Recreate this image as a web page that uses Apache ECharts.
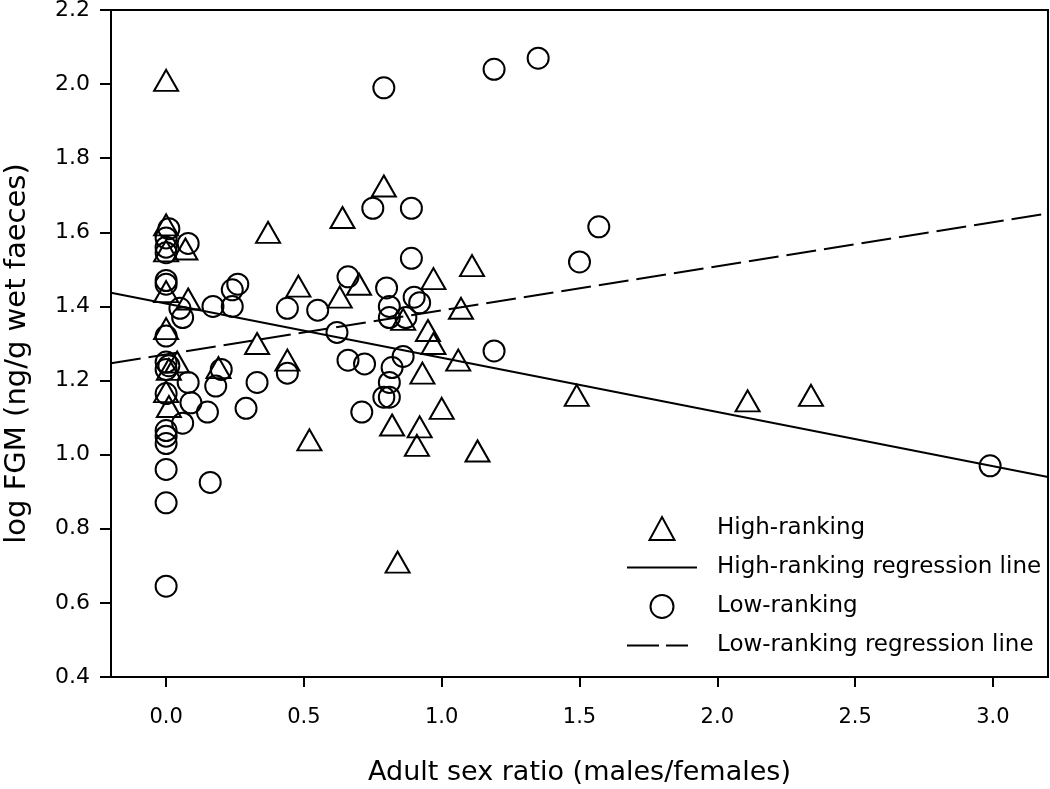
<!DOCTYPE html>
<html>
<head>
<meta charset="utf-8">
<script src="https://cdn.jsdelivr.net/npm/echarts@6/dist/echarts.min.js"></script>
<style>
html,body{margin:0;padding:0;background:#fff;}
#chart{width:1050px;height:789px;}
</style>
</head>
<body>
<div id="chart"></div>
<script>
// ---- data ----
const highRanking = [
  [0.00, 2.01], [0.00, 1.62], [0.00, 1.55], [0.07, 1.555], [0.00, 1.44], [0.08, 1.42],
  [0.00, 1.34], [0.04, 1.25], [0.01, 1.23], [0.00, 1.17], [0.01, 1.13], [0.19, 1.235],
  [0.33, 1.30], [0.37, 1.60], [0.44, 1.255], [0.48, 1.455], [0.52, 1.04], [0.63, 1.425],
  [0.64, 1.64], [0.70, 1.46], [0.79, 1.725], [0.82, 1.08], [0.84, 0.71], [0.86, 1.365],
  [0.92, 1.075], [0.91, 1.025], [0.93, 1.22], [0.95, 1.335], [0.97, 1.30], [0.97, 1.475],
  [1.00, 1.125], [1.06, 1.255], [1.07, 1.395], [1.11, 1.51], [1.13, 1.01], [1.49, 1.16],
  [2.11, 1.145], [2.34, 1.16]
];
const lowRanking = [
  [0.01, 1.61], [0.00, 1.585], [0.08, 1.57], [0.00, 1.56], [0.00, 1.545], [0.00, 1.47],
  [0.00, 1.46], [0.26, 1.46], [0.24, 1.445], [0.05, 1.395], [0.06, 1.37], [0.17, 1.40],
  [0.24, 1.40], [0.44, 1.395], [0.55, 1.39], [0.62, 1.33], [0.66, 1.48], [0.00, 1.32],
  [0.00, 1.25], [0.00, 1.23], [0.01, 1.24], [0.20, 1.23], [0.08, 1.195], [0.18, 1.185],
  [0.33, 1.195], [0.44, 1.22], [0.00, 1.165], [0.09, 1.14], [0.15, 1.115], [0.29, 1.125],
  [0.06, 1.085], [0.00, 1.065], [0.00, 1.05], [0.00, 1.03], [0.00, 0.96], [0.16, 0.925],
  [0.00, 0.87], [0.00, 0.645], [0.66, 1.255], [0.72, 1.245], [0.71, 1.115], [0.79, 1.155],
  [0.81, 1.155], [0.81, 1.195], [0.82, 1.235], [0.86, 1.265], [0.80, 1.45], [0.81, 1.40],
  [0.81, 1.37], [0.87, 1.37], [0.90, 1.425], [0.92, 1.41], [0.89, 1.53], [0.75, 1.665],
  [0.89, 1.665], [0.79, 1.99], [1.19, 2.04], [1.35, 2.07], [1.19, 1.28], [1.50, 1.52],
  [1.57, 1.615], [2.99, 0.97]
];
const highLine = [[-0.2, 1.437], [3.2, 0.940]];
const lowLine = [[-0.2, 1.247], [3.2, 1.651]];
const xTicks = [0, 0.5, 1.0, 1.5, 2.0, 2.5, 3.0];
const yTicks = [0.4, 0.6, 0.8, 1.0, 1.2, 1.4, 1.6, 1.8, 2.0, 2.2];
const seriesNames = ['High-ranking', 'High-ranking regression line', 'Low-ranking', 'Low-ranking regression line'];
const xTitle = 'Adult sex ratio (males/females)';
const yTitle = 'log FGM (ng/g wet faeces)';

const FONT = '"DejaVu Sans", sans-serif';
const chart = echarts.init(document.getElementById('chart'), null, {renderer: 'canvas'});
const hollow = {color: 'rgba(255,255,255,0)', borderColor: '#000', borderWidth: 2, opacity: 1};

chart.setOption({
  animation: false,
  backgroundColor: '#fff',
  grid: {left: 111, right: 2, top: 10, bottom: 112, show: true, borderColor: '#000', borderWidth: 2,
    containLabel: false, outerBoundsMode: 'none'},
  xAxis: {
    type: 'value', min: -0.2, max: 3.2,
    name: xTitle, nameLocation: 'middle', nameGap: 82,
    nameTextStyle: {fontFamily: FONT, fontSize: 27, color: '#000'},
    axisLine: {show: true, onZero: false, lineStyle: {color: '#000', width: 2}},
    axisTick: {show: true, length: 10, lineStyle: {color: '#000', width: 2}, customValues: xTicks},
    axisLabel: {fontFamily: FONT, fontSize: 21, color: '#000', margin: 30, customValues: xTicks,
      formatter: v => Number(v).toFixed(1)},
    splitLine: {show: false}
  },
  yAxis: {
    type: 'value', min: 0.4, max: 2.2, interval: 0.2,
    name: yTitle, nameLocation: 'middle', nameGap: 79, nameRotate: 90,
    nameTextStyle: {fontFamily: FONT, fontSize: 29, color: '#000', padding: [0, 20, 0, 0]},
    axisLine: {show: true, onZero: false, lineStyle: {color: '#000', width: 2}},
    axisTick: {show: true, length: 11, lineStyle: {color: '#000', width: 2}},
    axisLabel: {fontFamily: FONT, fontSize: 22, color: '#000', margin: 21,
      customValues: yTicks, formatter: v => Number(v).toFixed(1)},
    splitLine: {show: false}
  },
  legend: {
    orient: 'vertical', left: 622, top: 511, padding: 5,
    itemWidth: 70, itemHeight: 23, itemGap: 15, symbolKeepAspect: true,
    textStyle: {fontFamily: FONT, fontSize: 23, color: '#000', padding: [0, 0, 0, 15]},
    itemStyle: {borderWidth: 2},
    data: [
      {name: seriesNames[0], icon: 'path://M12.5,0L25,23H0Z'},
      {name: seriesNames[1], icon: 'path://M0,0H70V2H0Z', itemStyle: {borderWidth: 0}},
      {name: seriesNames[2], icon: 'path://M0,11A11,11,0,1,0,22,11A11,11,0,1,0,0,11Z'},
      {name: seriesNames[3], icon: 'path://M0,0H32V2H0Z M39,0H61V2H39Z M69.98,0H70V2H69.98Z', itemStyle: {borderWidth: 0}}
    ]
  },
  series: [
    {name: seriesNames[0], type: 'scatter', data: highRanking, symbol: 'triangle', symbolSize: [24, 21],
      itemStyle: hollow, z: 3},
    {name: seriesNames[1], type: 'line', data: highLine, symbol: 'none', showSymbol: false,
      lineStyle: {color: '#000', width: 2, type: 'solid'}, itemStyle: {color: '#000'}, z: 2},
    {name: seriesNames[2], type: 'scatter', data: lowRanking, symbol: 'circle', symbolSize: 21,
      itemStyle: hollow, z: 3},
    {name: seriesNames[3], type: 'line', data: lowLine, symbol: 'none', showSymbol: false,
      lineStyle: {color: '#000', width: 2, type: [30, 8]}, itemStyle: {color: '#000'}, z: 2}
  ]
});
</script>
</body>
</html>
